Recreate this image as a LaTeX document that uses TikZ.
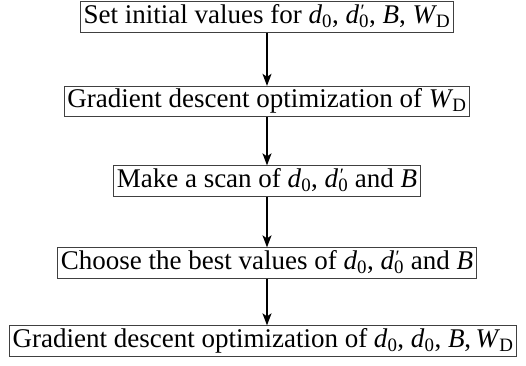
\documentclass[tikz,border=0pt]{standalone}
\usepackage{fontspec}
\setmainfont{Liberation Serif}
\usetikzlibrary{arrows.meta}
\newcommand{\dz}{\textit{d}\textsubscript{0}}
\newcommand{\dzp}{\textit{d}\rlap{\kern1.5pt\raisebox{-3pt}{\textsuperscript{′}}}\textsubscript{0}}
\newcommand{\WD}{\textit{W}\kern-1pt\textsubscript{D}}
\begin{document}
\begin{tikzpicture}[x=1pt,y=-1pt,
  box/.style={draw=black!75, line width=0.8pt, inner xsep=3pt, inner ysep=2.5pt,
    text height=19pt, text depth=6.5pt,
    font=\fontsize{27}{31}\selectfont},
  arr/.style={-{Stealth[length=12pt,width=9pt,inset=3pt]}, line width=1.3pt}]
\useasboundingbox (0,0) rectangle (526,365);
\node[box] (a) at (267,17) {Set initial values for \dz, \dzp, \textit{B}, \WD};
\node[box] (b) at (267,101.5) {Gradient descent optimization of \WD};
\node[box] (c) at (267,181) {Make a scan of \dz, \dzp\ and \textit{B}};
\node[box] (d) at (267,263) {Choose the best values of \dz, \dzp\ and \textit{B}};
\node[box] (e) at (263,341) {Gradient descent optimization of \dz, \dz, \textit{B},\,\WD};
\draw[arr] (a) -- (b);
\draw[arr] (b) -- (c);
\draw[arr] (c) -- (d);
\draw[arr] (d.south) -- (d.south |- e.north);
\end{tikzpicture}
\end{document}
